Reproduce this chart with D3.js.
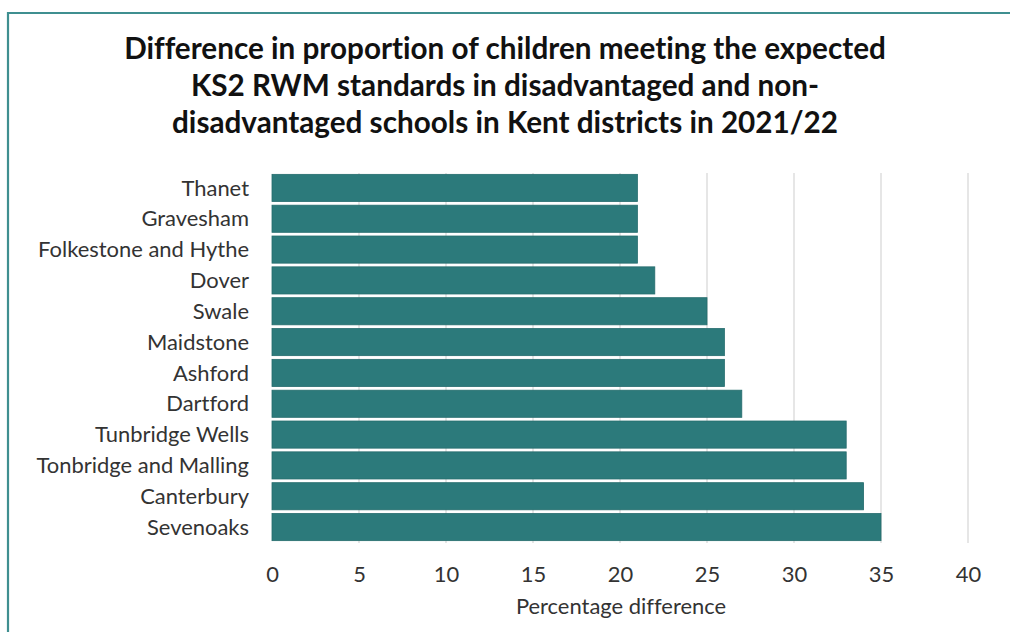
<!DOCTYPE html>
<html>
<head>
<meta charset="utf-8">
<script src="https://cdn.jsdelivr.net/npm/d3@7"></script>
<style>
  html, body { margin: 0; padding: 0; background: #fff; }
  svg { display: block; }
  text { font-variant-ligatures: none; font-feature-settings: "liga" 0; }
</style>
</head>
<body>
<svg id="chart" width="1010" height="632"></svg>
<script>
const categories = ["Thanet", "Gravesham", "Folkestone and Hythe", "Dover", "Swale", "Maidstone",
  "Ashford", "Dartford", "Tunbridge Wells", "Tonbridge and Malling", "Canterbury", "Sevenoaks"];
const values = [21, 21, 21, 22, 25, 26, 26, 27, 33, 33, 34, 35];
const xTicks = [0, 5, 10, 15, 20, 25, 30, 35, 40];
const titleLines = [
  "Difference in proportion of children meeting the expected",
  "KS2 RWM standards in disadvantaged and non-",
  "disadvantaged schools in Kent districts in 2021/22"
];
const xAxisTitle = "Percentage difference";

const svg = d3.select("#chart");
const FONT = "Lato, 'Open Sans', sans-serif";

// frame (border runs off the right and bottom edges)
svg.append("path")
  .attr("d", "M8,640 L8,13 L1020,13")
  .attr("fill", "none")
  .attr("stroke", "#3f8f90")
  .attr("stroke-width", 2.2);

// title
const title = svg.append("g");
function fitSize(text, weight, targetW, start) {
  const t = svg.append("text").attr("font-family", FONT).attr("font-weight", weight)
    .attr("font-size", start).text(text);
  const w = t.node().getComputedTextLength();
  t.remove();
  return start * targetW / w;
}
const titleSize = fitSize(titleLines[0], 700, 762, 26);
const titleBase = [59, 96, 133];
titleLines.forEach((l, i) => {
  title.append("text")
    .attr("x", 505).attr("y", titleBase[i])
    .attr("text-anchor", "middle")
    .attr("font-family", FONT).attr("font-weight", 700)
    .attr("font-size", titleSize)
    .attr("fill", "#111")
    .text(l);
});

const x = d3.scaleLinear().domain([0, 40]).range([272, 968]);
const y = d3.scaleBand().domain(categories).range([172.5, 542.5]).paddingInner(0.12).paddingOuter(0.06);

// gridlines
svg.append("g")
  .selectAll("line").data(xTicks.filter(d => d > 0)).join("line")
  .attr("x1", d => x(d)).attr("x2", d => x(d))
  .attr("y1", 173).attr("y2", 543)
  .attr("stroke", "#d9d9d9").attr("stroke-width", 1.3);

// bars
svg.append("g")
  .selectAll("rect").data(categories).join("rect")
  .attr("x", x(0))
  .attr("y", d => y(d))
  .attr("width", (d, i) => x(values[i]) - x(0))
  .attr("height", y.bandwidth())
  .attr("fill", "#2c7a7b")
  .attr("stroke", "#256c6d")
  .attr("stroke-width", 0.8);

// category labels
const labelSize = fitSize("Folkestone and Hythe", 400, 211, 18);
const yAxis = d3.axisLeft(y).tickSize(0).tickPadding(0);
const gy = svg.append("g").attr("transform", "translate(249,0)").call(yAxis);
gy.select(".domain").remove();
gy.selectAll("text")
  .attr("font-family", FONT).attr("font-size", labelSize).attr("fill", "#333")
  .attr("dy", "0.35em");

// x axis labels
const xAxis = d3.axisBottom(x).tickValues(xTicks).tickSize(0).tickPadding(0);
const gx = svg.append("g").attr("transform", "translate(0,566)").call(xAxis);
gx.select(".domain").remove();
gx.selectAll("text")
  .attr("font-family", FONT).attr("font-size", labelSize).attr("fill", "#333");

// axis title
svg.append("text")
  .attr("x", 621).attr("y", 614)
  .attr("text-anchor", "middle")
  .attr("font-family", FONT).attr("font-size", labelSize)
  .attr("fill", "#333")
  .text(xAxisTitle);
</script>
</body>
</html>
